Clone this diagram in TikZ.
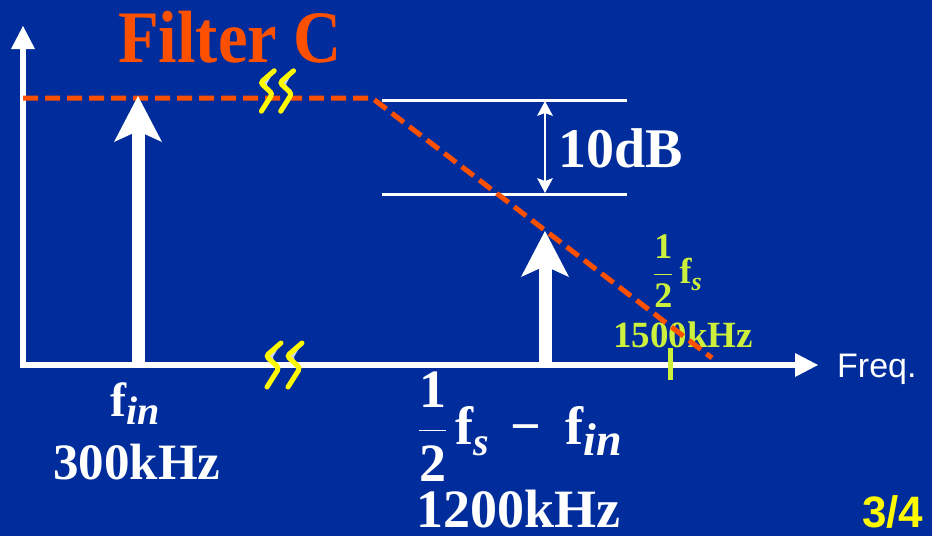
\RequirePackage{fix-cm}
\documentclass[tikz,border=0pt]{standalone}
\usepackage{amsmath}
\usepackage{fontspec}
\setmainfont{Liberation Serif}
\newfontfamily\arialf{Liberation Sans}
\usetikzlibrary{arrows.meta}
\definecolor{bgblue}{RGB}{0,45,155}
\definecolor{filtorange}{RGB}{255,80,0}
\definecolor{brkyellow}{RGB}{255,250,0}
\definecolor{brkblue}{RGB}{200,212,245}
\definecolor{fsgreen}{RGB}{205,240,60}
\newcommand\setsz[1]{\fontsize{#1}{#1}\selectfont}
\tikzset{
  lbl/.style={anchor=base west, inner sep=0pt, text=white},
  axisln/.style={white, line width=6pt, -{Triangle[length=23pt,width=24pt,line width=0pt]}},
  sig/.style={white, line width=13pt, -{Stealth[length=46pt,width=48pt,inset=11pt,line width=0pt]}},
  resp/.style={filtorange, line width=5pt, dash pattern=on 15pt off 7pt},
  dbline/.style={white, line width=3pt},
  dbarr/.style={white, line width=2.5pt,
    {Stealth[length=15pt,width=16pt,inset=3pt,line width=0pt]}-{Stealth[length=15pt,width=16pt,inset=3pt,line width=0pt]}},
  brk/.pic={
    \foreach \dx in {0,21}{
      \begin{scope}[xshift=\dx]
        \fill[brkblue] (-3,-22) -- (-18,-9) -- (-5,3) -- (-17,22) -- (-8,6) -- (-11,-8) -- cycle;
        \draw[brkyellow, line width=5pt, rounded corners=3pt, line cap=round]
          (-3,-22) -- (-18,-9) -- (-5,3) -- (-17,22);
      \end{scope}}
  },
}
\begin{document}
\begin{tikzpicture}[x=1pt,y=-1pt]
  \useasboundingbox (0,0) rectangle (932,536);
  \fill[bgblue] (0,0) rectangle (932,536);
  % axes
  \coordinate (ybot) at (23,368);
  \coordinate (ytop) at (23,26);
  \coordinate (xbeg) at (20,365);
  \coordinate (xend) at (818,365);
  \draw[axisln] (ybot) -- (ytop);
  \draw[axisln] (xbeg) -- (xend);
  \node[lbl, font=\arialf\setsz{34}] (freq) at (837,377) {Freq.};
  % 10dB marker
  \coordinate (dbtl) at (382,100);
  \coordinate (dbtr) at (627,100);
  \coordinate (dbbl) at (382,194);
  \coordinate (dbbr) at (627,194);
  \draw[dbline] (dbtl) -- (dbtr);
  \draw[dbline] (dbbl) -- (dbbr);
  \coordinate (dbup) at (545,101);
  \coordinate (dbdn) at (545,193);
  \draw[dbarr] (dbup) -- (dbdn);
  \node[lbl, font=\bfseries\setsz{56}] (db) at (558,167) {10dB};
  % half fs tick
  \coordinate (tkt) at (670,348);
  \coordinate (tkb) at (670,380);
  \draw[fsgreen, line width=5pt] (tkt) -- (tkb);
  \node[lbl, text=fsgreen, font=\bfseries\setsz{37}] (fsval) at (613,347) {1500kHz};
  \node[lbl, text=fsgreen, font=\bfseries\setsz{36}] (fshalf) at (653,283)
    {$\dfrac{\text{1}}{\text{2}}$\,f\raisebox{-0.22em}{\itshape\setsz{26}s}};
  % filter response
  \coordinate (rsta) at (23,98);
  \coordinate (rknee) at (372,98);
  \coordinate (rend) at (712,358);
  \draw[resp] (rsta) -- (rknee) -- (rend);
  % signal lines
  \coordinate (sgab) at (138,362);
  \coordinate (sgat) at (138,96);
  \coordinate (sgbb) at (545,362);
  \coordinate (sgbt) at (545,231);
  \draw[sig] (sgab) -- (sgat);
  \draw[sig] (sgbb) -- (sgbt);
  % axis breaks
  \pic[scale=0.92] (brktop) at (277,91) {brk};
  \pic (brkbot) at (284,365) {brk};
  % labels
  \node[lbl, text=filtorange, font=\bfseries\setsz{74}] (title) at (118,62)
    {\scalebox{0.9}[1]{Filter C}};
  \node[lbl, font=\bfseries\setsz{48}] (fin) at (110,416)
    {f\raisebox{-0.18em}{\itshape\setsz{40}in}};
  \node[lbl, font=\bfseries\setsz{51}] (finval) at (53,479) {300kHz};
  \node[lbl, font=\bfseries\setsz{54}] (img) at (418,444)
    {$\dfrac{\text{1}}{\text{2}}$\hspace{0.15em}f\raisebox{-0.22em}{\itshape\setsz{40}s}\hspace{0.4em}−\hspace{0.45em}f\raisebox{-0.22em}{\itshape\setsz{46}in}};
  \node[lbl, font=\bfseries\setsz{54}] (imgval) at (416,527) {1200kHz};
  \node[lbl, text=brkyellow, font=\arialf\bfseries\setsz{44}] (page) at (862,527) {3/4};
\end{tikzpicture}
\end{document}
